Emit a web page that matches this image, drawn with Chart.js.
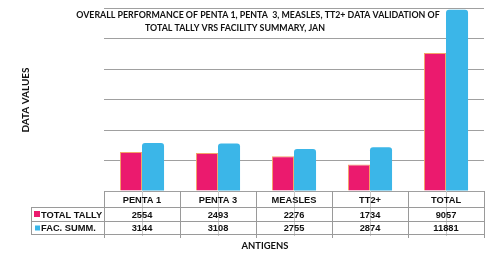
<!DOCTYPE html>
<html><head><meta charset="utf-8">
<script src="https://cdn.jsdelivr.net/npm/chart.js@4"></script>
<style>html,body{margin:0;padding:0;background:#fff;}#wrap{width:500px;height:263px;}</style>
</head><body><div id="wrap"><canvas id="c" width="500" height="263"></canvas></div>
<script>
const categories = ['PENTA 1','PENTA 3','MEASLES','TT2+','TOTAL'];
const totalTally = [2554, 2493, 2276, 1734, 9057];
const facSumm = [3144, 3108, 2755, 2874, 11881];
const seriesNames = ['TOTAL TALLY','FAC. SUMM.'];
const titleLines = ['OVERALL PERFORMANCE OF PENTA 1, PENTA  3, MEASLES, TT2+ DATA VALIDATION OF','TOTAL TALLY VRS FACILITY SUMMARY, JAN'];
const yTitle = 'DATA VALUES';
const xTitle = 'ANTIGENS';

const PINK = '#EB1A6E', BLUE = '#3BB6E8';
const titleFont = '"Lato", "Open Sans", sans-serif';
const tableFont = '"Liberation Sans", Arial, sans-serif';

function fitFont(ctx, text, target, family){
  ctx.font = 'bold 10px ' + family;
  const w = ctx.measureText(text).width;
  return 10 * target / w;
}

const tablePlugin = {
  id: 'tablePlugin',
  afterDraw(chart){
    const ctx = chart.ctx;
    const x = chart.scales.x, area = chart.chartArea;
    const left = area.left, right = area.right, base = area.bottom;
    const n = categories.length;
    const cw = (right - left) / n;
    const r0 = base, r1 = base + 16, r2 = base + 30, r3 = base + 43;
    const legL = 31;
    ctx.save();
    ctx.strokeStyle = '#c8c8c8'; ctx.lineWidth = 1;
    for (let i = 0; i < n; i++){
      const cx = Math.round(x.getPixelForValue(i)) + 0.5;
      ctx.beginPath(); ctx.moveTo(cx, r0); ctx.lineTo(cx, r3 + 2); ctx.stroke();
    }
    ctx.strokeStyle = '#9a9a9a';
    const hl = (y, x0) => { ctx.beginPath(); ctx.moveTo(x0, Math.round(y)+0.5); ctx.lineTo(right, Math.round(y)+0.5); ctx.stroke(); };
    hl(r1, legL); hl(r2, legL); hl(r3, legL);
    for (let i = 0; i <= n; i++){
      const vx = Math.round(left + i * cw) + 0.5;
      ctx.beginPath(); ctx.moveTo(vx, r0); ctx.lineTo(vx, r3 + 4); ctx.stroke();
    }
    ctx.beginPath(); ctx.moveTo(legL + 0.5, r1); ctx.lineTo(legL + 0.5, r3); ctx.stroke();
    ctx.fillStyle = '#111';
    ctx.font = 'bold 9.3px ' + tableFont;
    ctx.textAlign = 'center'; ctx.textBaseline = 'middle';
    for (let i = 0; i < n; i++){
      const cx = x.getPixelForValue(i);
      ctx.fillText(categories[i], cx, (r0 + r1) / 2 + 1);
      ctx.fillText(String(totalTally[i]), cx, (r1 + r2) / 2 + 1);
      ctx.fillText(String(facSumm[i]), cx, (r2 + r3) / 2 + 1);
    }
    ctx.textAlign = 'left';
    ctx.fillStyle = PINK; ctx.fillRect(34, (r1+r2)/2 - 3, 6, 6);
    ctx.fillStyle = BLUE; ctx.fillRect(35, (r2+r3)/2 - 2, 5, 5);
    ctx.fillStyle = '#111';
    ctx.fillText(seriesNames[0], 41, (r1 + r2) / 2 + 1);
    ctx.fillText(seriesNames[1], 41, (r2 + r3) / 2 + 1);
    ctx.textAlign = 'center';
    const fx = fitFont(ctx, xTitle, 47, titleFont);
    ctx.font = 'bold ' + fx.toFixed(2) + 'px ' + titleFont;
    ctx.fillText(xTitle, 265, 246);
    const fy = fitFont(ctx, yTitle, 65, titleFont);
    ctx.font = 'bold ' + fy.toFixed(2) + 'px ' + titleFont;
    ctx.save();
    ctx.translate(26, 100); ctx.rotate(-Math.PI/2);
    ctx.fillText(yTitle, 0, 0);
    ctx.restore();
    const fs1 = fitFont(ctx, titleLines[0], 364, titleFont);
    ctx.font = 'bold ' + fs1.toFixed(2) + 'px ' + titleFont;
    ctx.fillText(titleLines[0], 258, 15);
    ctx.fillText(titleLines[1], 235, 28);
    ctx.restore();
  }
};

new Chart(document.getElementById('c'), {
  type: 'bar',
  data: {
    labels: categories,
    datasets: [
      { label: seriesNames[0], data: totalTally, backgroundColor: PINK, borderColor: '#F3A468', borderWidth: 1, borderSkipped: 'bottom' },
      { label: seriesNames[1], data: facSumm, backgroundColor: BLUE, borderWidth: 0, borderRadius: {topLeft: 3, topRight: 3, bottomLeft: 0, bottomRight: 0}, borderSkipped: 'bottom' }
    ]
  },
  options: {
    responsive: false,
    animation: false,
    devicePixelRatio: 1,
    layout: { padding: { left: 104, right: 16, top: 8, bottom: 72 } },
    datasets: { bar: { categoryPercentage: 0.58, barPercentage: 1.0 } },
    plugins: { legend: { display: false }, tooltip: { enabled: false }, title: { display: false } },
    scales: {
      x: {
        ticks: { display: false },
        grid: { display: false, drawTicks: false },
        border: { display: false },
        afterFit(s){ s.height = 0; }
      },
      y: {
        min: 0, max: 12000,
        ticks: { display: false, stepSize: 2000 },
        grid: { color: '#a0a0a0', lineWidth: 1, drawTicks: false },
        border: { display: false },
        afterFit(s){ s.width = 0; }
      }
    }
  },
  plugins: [tablePlugin]
});
</script>
</body></html>
